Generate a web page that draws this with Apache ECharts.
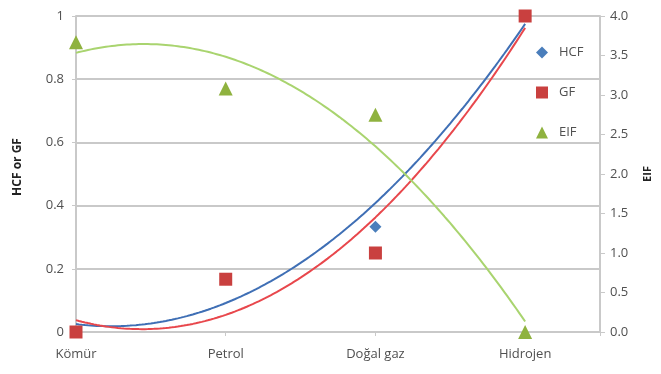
<!DOCTYPE html>
<html>
<head>
<meta charset="utf-8">
<script src="https://cdn.jsdelivr.net/npm/echarts@6/dist/echarts.min.js"></script>
<style>
  html, body { margin: 0; padding: 0; background: #fff; }
  #chart { width: 661px; height: 374px; }
</style>
</head>
<body>
<div id="chart"></div>
<script>
// Energy sources on the horizontal axis
const categories = ['Kömür', 'Petrol', 'Doğal gaz', 'Hidrojen'];
// Factor values per energy source
const hcf = [0, 0.167, 0.333, 1];
const gf = [0, 0.167, 0.25, 1];
const eif = [3.667, 3.083, 2.75, 0];
// Axis ticks
const leftTicks = [0, 0.2, 0.4, 0.6, 0.8, 1];
const rightTicks = [0, 0.5, 1, 1.5, 2, 2.5, 3, 3.5, 4];

// Least-squares quadratic fit (2nd order polynomial trendline)
function quadFit(ys) {
  const n = ys.length;
  let S = [0, 0, 0, 0, 0], T = [0, 0, 0];
  ys.forEach((y, x) => {
    for (let k = 0; k < 5; k++) S[k] += Math.pow(x, k);
    for (let k = 0; k < 3; k++) T[k] += y * Math.pow(x, k);
  });
  const A = [[S[0], S[1], S[2], T[0]], [S[1], S[2], S[3], T[1]], [S[2], S[3], S[4], T[2]]];
  for (let i = 0; i < 3; i++) {
    for (let j = i + 1; j < 3; j++) {
      const f = A[j][i] / A[i][i];
      for (let k = i; k < 4; k++) A[j][k] -= f * A[i][k];
    }
  }
  const c = [0, 0, 0];
  for (let i = 2; i >= 0; i--) {
    let s = A[i][3];
    for (let k = i + 1; k < 3; k++) s -= A[i][k] * c[k];
    c[i] = s / A[i][i];
  }
  const pts = [];
  for (let i = 0; i <= 150; i++) {
    const x = (n - 1) * i / 150;
    pts.push([x, c[0] + c[1] * x + c[2] * x * x]);
  }
  return pts;
}

const pts = arr => arr.map((v, i) => [i, v]);
const gridColor = '#c9c9c9';
const labelColor = '#505050';
const font = 'Open Sans';

const chart = echarts.init(document.getElementById('chart'), null, { renderer: 'canvas' });
chart.setOption({
  animation: false,
  backgroundColor: '#fff',
  textStyle: { fontFamily: font },
  grid: { left: 76, right: 57, top: 16, bottom: 42 },
  legend: {
    orient: 'vertical',
    left: 531, top: 41,
    itemGap: 27,
    itemWidth: 12, itemHeight: 12,
    textStyle: { color: labelColor, fontSize: 13, fontFamily: font, padding: [0, 0, 0, 6] },
    data: ['HCF', 'GF', 'EIF']
  },
  xAxis: {
    type: 'value', min: 0, max: 3.5, interval: 1,
    axisLine: { show: true, lineStyle: { color: gridColor, width: 2 } },
    axisTick: { show: true, length: 4, lineStyle: { color: gridColor } },
    splitLine: { show: false },
    axisLabel: {
      color: labelColor, fontSize: 13, margin: 16,
      formatter: v => (Number.isInteger(v) && categories[v] !== undefined) ? categories[v] : ''
    }
  },
  yAxis: [
    {
      type: 'value', min: 0, max: 1, interval: 0.2,
      name: 'HCF or GF', nameLocation: 'middle', nameGap: 52,
      nameTextStyle: { color: '#222', fontSize: 12, fontWeight: 'bold', fontFamily: font, padding: [0, 0, 0, 14] },
      axisLine: { show: true, lineStyle: { color: gridColor, width: 2 } },
      axisTick: { show: true, length: 4, lineStyle: { color: gridColor } },
      splitLine: { show: true, lineStyle: { color: gridColor, width: 2 } },
      axisLabel: {
        color: labelColor, fontSize: 13, margin: 12,
        formatter: v => leftTicks.includes(+v.toFixed(1)) ? String(+v.toFixed(1)) : ''
      }
    },
    {
      type: 'value', min: 0, max: 4, interval: 0.5, position: 'right',
      name: 'EIF', nameLocation: 'middle', nameGap: 42,
      nameTextStyle: { color: '#222', fontSize: 11, fontWeight: 'bold', fontFamily: font },
      axisLine: { show: true, lineStyle: { color: gridColor, width: 2 } },
      axisTick: { show: true, length: 5, lineStyle: { color: gridColor } },
      splitLine: { show: false },
      axisLabel: {
        color: labelColor, fontSize: 13, margin: 10,
        formatter: v => rightTicks.includes(v) ? v.toFixed(1) : ''
      }
    }
  ],
  series: [
    {
      name: 'HCF trend', type: 'line', data: quadFit(hcf), showSymbol: false,
      lineStyle: { color: '#3f6fb5', width: 2 }, z: 2, silent: true
    },
    {
      name: 'GF trend', type: 'line', data: quadFit(gf), showSymbol: false,
      lineStyle: { color: '#e8474c', width: 2 }, z: 2, silent: true
    },
    {
      name: 'EIF trend', type: 'line', yAxisIndex: 1, data: quadFit(eif), showSymbol: false,
      lineStyle: { color: '#a9d46f', width: 2 }, z: 2, silent: true
    },
    {
      name: 'HCF', type: 'scatter', data: pts(hcf), symbol: 'diamond', symbolSize: 12,
      itemStyle: { color: '#4a7ebb', opacity: 1 }, z: 5
    },
    {
      name: 'GF', type: 'scatter', data: pts(gf), symbol: 'rect', symbolSize: 13,
      itemStyle: { color: '#c9403f', opacity: 1 }, z: 6
    },
    {
      name: 'EIF', type: 'scatter', yAxisIndex: 1, data: pts(eif), symbol: 'triangle', symbolSize: 14,
      itemStyle: { color: '#8fb23f', opacity: 1 }, z: 5
    }
  ]
});
</script>
</body>
</html>
